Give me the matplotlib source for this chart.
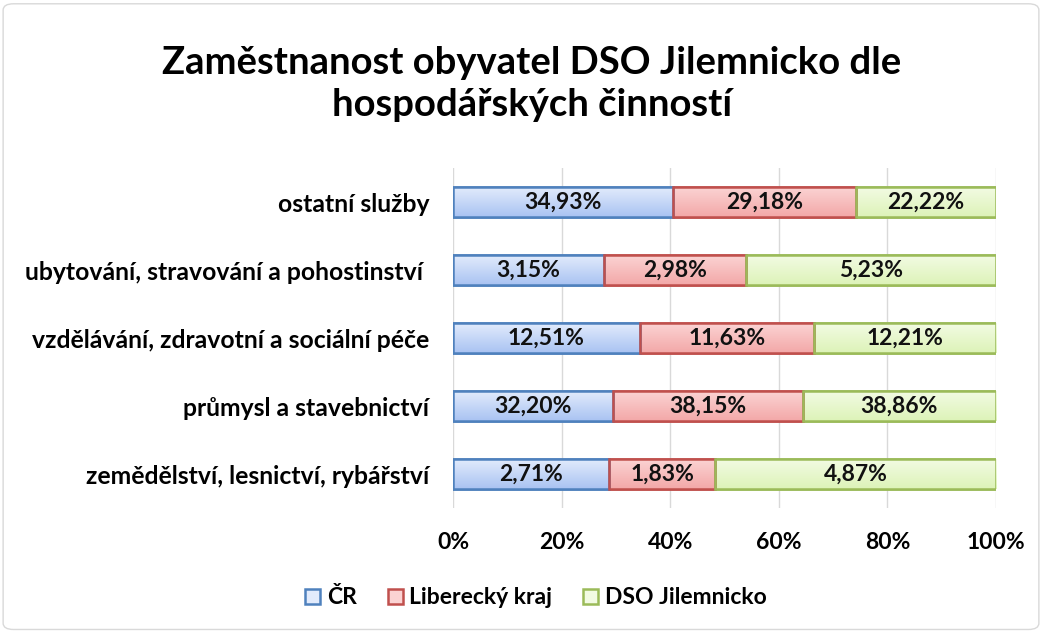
import matplotlib
matplotlib.use("Agg")
import matplotlib.pyplot as plt
import numpy as np
from matplotlib.colors import LinearSegmentedColormap
from matplotlib.patches import FancyBboxPatch, Patch

plt.rcParams['font.family'] = ['Lato', 'DejaVu Sans']

categories = ["zemědělství, lesnictví, rybářství",
              "průmysl a stavebnictví",
              "vzdělávání, zdravotní a sociální péče",
              "ubytování, stravování a pohostinství ",
              "ostatní služby"]
series_names = ["ČR", "Liberecký kraj", "DSO Jilemnicko"]
cr = [2.71, 32.20, 12.51, 3.15, 34.93]
lk = [1.83, 38.15, 11.63, 2.98, 29.18]
dso = [4.87, 38.86, 12.21, 5.23, 22.22]
ticks = [0, 20, 40, 60, 80, 100]
title = "Zaměstnanost obyvatel DSO Jilemnicko dle\nhospodářských činností"

edge_colors = ["#4F81BD", "#C0504D", "#9BBB59"]
grad = [("#E2EBFC", "#A9C3F2"), ("#FBD3D3", "#F3A8A8"), ("#F2FBE3", "#DDF3B8")]

fig = plt.figure(figsize=(10.42, 6.32), dpi=100)
ax = fig.add_axes([453/1042, 1-508/632, (996-453)/1042, 340/632])

data = np.array([cr, lk, dso])
totals = data.sum(axis=0)
pct = data / totals * 100
y = np.arange(len(categories))
left = np.zeros(len(categories))
h = 0.44
for i in range(3):
    bars = ax.barh(y, pct[i], left=left, height=h, color=grad[i][1],
                   edgecolor=edge_colors[i], linewidth=1.8, zorder=3,
                   label=series_names[i])
    cmap = LinearSegmentedColormap.from_list("g", [grad[i][0], grad[i][1]])
    for b, v, l, yy in zip(bars, data[i], left, y):
        im = ax.imshow(np.linspace(1, 0, 50).reshape(-1, 1), cmap=cmap,
                       extent=[l, l + b.get_width(), yy - h/2, yy + h/2],
                       aspect='auto', zorder=3.5, origin='lower')
        im.set_clip_path(b)
        ax.add_patch(plt.Rectangle((l, yy - h/2), b.get_width(), h, fill=False,
                                   edgecolor=edge_colors[i], linewidth=1.8, zorder=4))
        ax.text(l + b.get_width()/2, yy, f"{v:.2f}%".replace('.', ','),
                ha='center', va='center', fontsize=16.5, fontweight='bold',
                color='#111111', zorder=5)
    left = left + pct[i]

ax.set_xlim(0, 100)
ax.set_ylim(-0.5, len(categories) - 0.5)
ax.set_aspect('auto')
ax.set_xticks(ticks)
ax.set_xticklabels([f"{t}%" for t in ticks], fontsize=16.5, fontweight='bold')
ax.set_yticks(y)
ax.set_yticklabels(categories, fontsize=17.8, fontweight='bold')
ax.tick_params(length=0)
ax.tick_params(axis='y', pad=17)
ax.tick_params(axis='x', pad=17)
ax.grid(axis='x', color='#D9D9D9', linewidth=1, zorder=0)
for s in ax.spines.values():
    s.set_visible(False)

fig.text(532/1042, 1-84/632, title, ha='center', va='center', fontsize=27.5,
         fontweight='bold', linespacing=1.27)

handles = [Patch(facecolor=g[0], edgecolor=e, linewidth=1.8, label=n)
           for g, e, n in zip(grad, edge_colors, series_names)]
leg = fig.legend(handles=handles, loc='center', bbox_to_anchor=(536/1042, 1-598/632),
                 ncol=3, frameon=False, prop={'size': 16.5, 'weight': 'bold'},
                 handlelength=0.65, handleheight=0.65, columnspacing=1.35, handletextpad=0.3)

border = FancyBboxPatch((0.003, 0.004), 0.994, 0.99, boxstyle="round,pad=0,rounding_size=0.01",
                        transform=fig.transFigure, fill=False, edgecolor='#D9D9D9', linewidth=1)
fig.patches.append(border)

fig.savefig("out.png", dpi=100, facecolor='white')
